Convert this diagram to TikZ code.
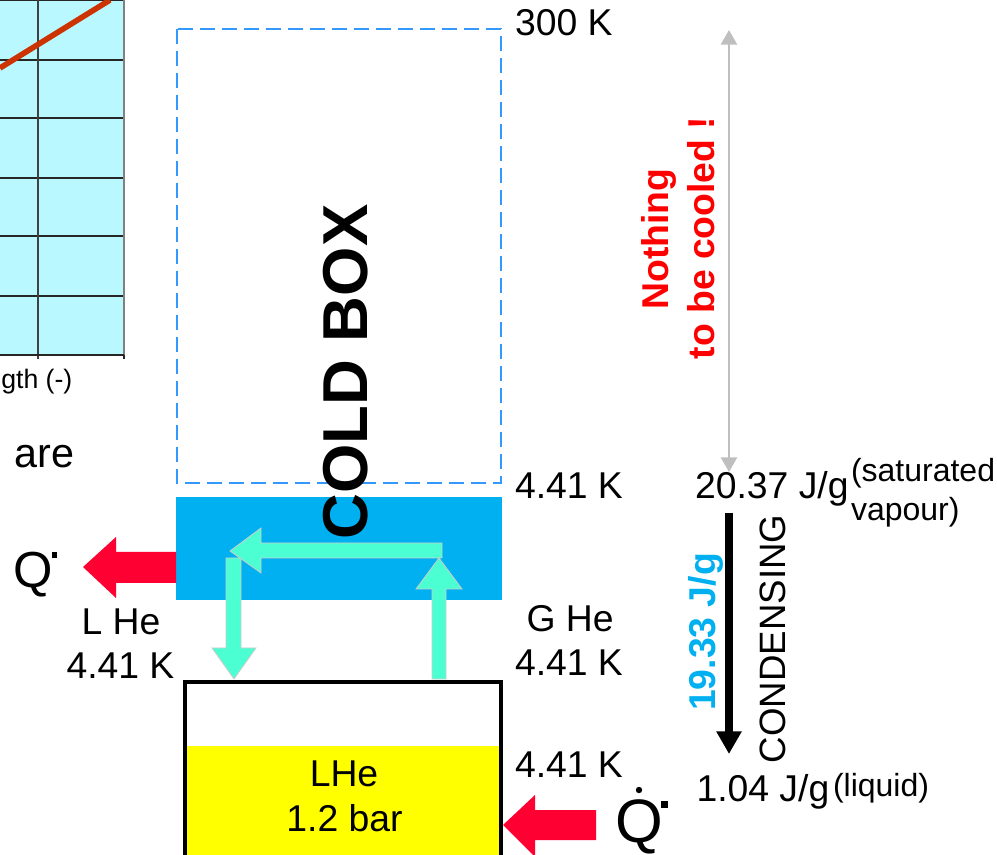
\documentclass[tikz,border=0pt]{standalone}
\usepackage{fontspec}
\setmainfont{Liberation Sans}
\usetikzlibrary{arrows.meta}
\definecolor{chartbg}{HTML}{B9F8FF}
\definecolor{chartline}{HTML}{CC3300}
\definecolor{boxblue}{HTML}{00B0F0}
\definecolor{dashblue}{HTML}{3399FF}
\definecolor{hotred}{HTML}{FF0033}
\definecolor{teal2}{HTML}{4BFFD2}
\definecolor{grayarrow}{HTML}{BFBFBF}
\definecolor{liquidyellow}{RGB}{255,255,0}
\newcommand{\fs}[1]{\fontsize{#1}{#1}\selectfont}
\tikzset{
  lbl/.style={anchor=base west,inner sep=0pt,outer sep=0pt,font=\fs{28}},
  small/.style={anchor=base west,inner sep=0pt,outer sep=0pt,font=\fs{24}},
  ctr/.style={anchor=base,inner sep=0pt,outer sep=0pt,font=\fs{28}},
  vert/.style={anchor=base,rotate=90,inner sep=0pt,outer sep=0pt,font=\fs{28}\bfseries},
  grid/.style={draw=black!85,line width=0.9pt},
  redarrow/.style={fill=hotred,draw=none},
  tealarrow/.style={fill=teal2,draw=grayarrow!80,line width=0.6pt},
}
\begin{document}
\begin{tikzpicture}[x=0.75pt,y=-0.75pt]
\useasboundingbox (0,0) rectangle (997,855);
% chart
\fill[chartbg] (0,0) rectangle (124,355);
\foreach \yy in {0,60,118,178,236,296} \draw[grid] (0,\yy) -- (124,\yy);
\draw[grid,draw=black!75] (38,0) -- (38,359);
\draw[draw=gray,line width=1.5pt] (124,0) -- (124,355);
\draw[grid,line width=1.1pt] (0,355) -- (124,355);
\draw[grid] (124,355) -- (124,359);
\draw[chartline,line width=4.2pt] (0,68) -- (110,0);
\node[anchor=base west,inner sep=0pt,font=\fs{20}] (axis) at (1,389) {gth (-)};
\node[anchor=base east,inner sep=0pt,font=\fs{31}] (are) at (75,468) {are};
% cold box
\draw[dashblue,line width=1.2pt,dash pattern=on 11.5pt off 5pt] (177,29) rectangle (501,483);
\fill[boxblue] (176,497) rectangle (502,600);
% LHe vessel
\fill[liquidyellow] (185,746) rectangle (501,857);
\draw[black,line width=3pt] (185,860) -- (185,682) -- (501,682) -- (501,860);
% red arrows
\path[redarrow] (176,552) -- (116,552) -- (116,537) -- (83,567) -- (116,598) -- (116,583) -- (176,583) -- cycle;
\path[redarrow] (596,810) -- (535,810) -- (535,795) -- (503,825) -- (535,857) -- (535,840) -- (596,840) -- cycle;
% teal arrows
\path[tealarrow] (442,543) -- (261,543) -- (261,528) -- (230,551) -- (261,573) -- (261,558) -- (442,558) -- cycle;
\path[tealarrow] (226,558) -- (241,558) -- (241,648) -- (256,648) -- (234,679) -- (212,648) -- (226,648) -- cycle;
\path[tealarrow] (432,679) -- (432,589) -- (416,589) -- (439,558) -- (462,589) -- (446,589) -- (446,679) -- cycle;
% temperature and energy arrows
\coordinate (gtop) at (729,30);
\coordinate (gbot) at (729,472);
\coordinate (btop) at (729,513);
\coordinate (bbot) at (729,754);
\draw[grayarrow,line width=2pt,{Triangle[length=11pt,width=12pt]}-{Triangle[length=11pt,width=12pt]}] (gtop) -- (gbot);
\draw[black,line width=6pt,-{Triangle[length=17pt,width=18pt]}] (btop) -- (bbot);
% labels
\node[lbl] (t300) at (515,36) {300 K};
\node[lbl] (t441a) at (515,499) {4.41 K};
\node[lbl] (t441b) at (515,676) {4.41 K};
\node[lbl] (t441c) at (515,777) {4.41 K};
\node[lbl] (t441d) at (66.5,678) {4.41 K};
\node[ctr] (lhe) at (121,635) {L He};
\node[lbl] (ghe) at (526.5,632) {G He};
\node[ctr] (lhe2) at (344,786) {LHe};
\node[ctr] (bar) at (344.5,831) {1.2 bar};
\node[lbl] (e1) at (695,499) {20.37 J/g};
\node[small] (sat) at (851,482) {(saturated};
\node[small] (vap) at (851,521) {vapour)};
\node[lbl] (e2) at (696.5,801) {1.04 J/g};
\node[small] (liq) at (833,796) {(liquid)};
% rotated
\node[vert,font=\fs{47.6}\bfseries] (cold) at (367,372) {COLD BOX};
\node[vert,text=red] (n1) at (668,239) {Nothing};
\node[vert,text=red] (n2) at (714,238) {to be cooled !};
\node[vert,text=boxblue] (dh) at (715,632) {19.33 J/g};
\node[vert,font=\fs{27.5}] (cond) at (785,639) {CONDENSING};
% Q symbols
\node[anchor=base west,inner sep=0pt,font=\fs{38}] (q1) at (13.5,588) {Q};
\fill[black] (52,552) rectangle (57,558);
\node[anchor=base west,inner sep=0pt,font=\fs{46}] (q2) at (615,842) {Q};
\fill[black] (639,790) circle (3.2);
\fill[black] (661,801) rectangle (668,808);
\end{tikzpicture}
\end{document}
